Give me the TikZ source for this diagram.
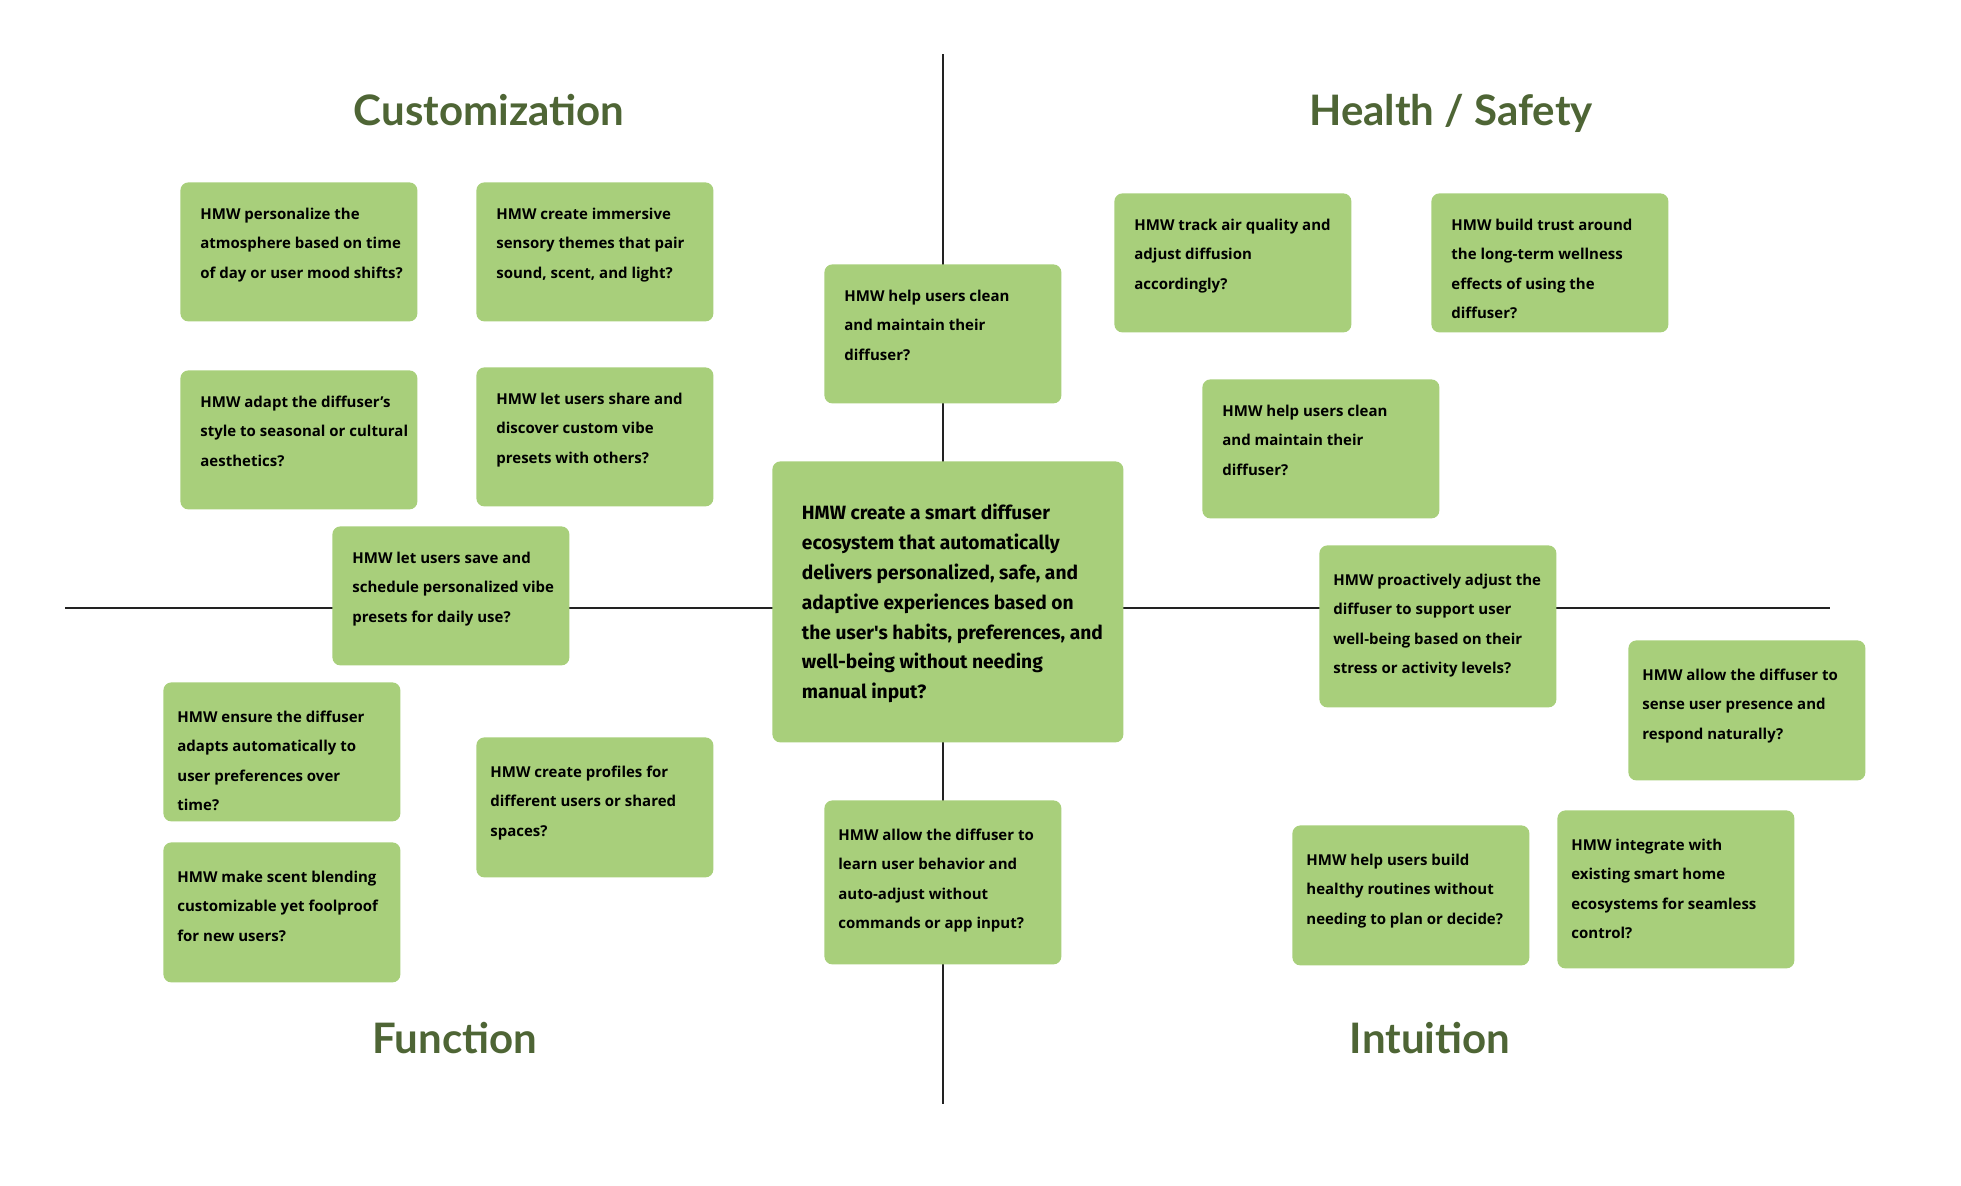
\documentclass[tikz,border=0pt]{standalone}
\usepackage{fontspec}
\newfontfamily\boxfont{Open Sans}
\newfontfamily\midfont{Fira Sans}
\newfontfamily\titlefont{Lato}
\definecolor{boxgreen}{HTML}{A8CF7B}
\definecolor{titlegreen}{HTML}{4E6535}
\definecolor{axisgray}{HTML}{222222}
\tikzset{
  hmwbox/.style={fill=boxgreen, draw=none, rounded corners=4pt, inner sep=0pt, anchor=north west},
  quadtitle/.style={text=titlegreen, font=\titlefont\bfseries\fontsize{21pt}{24pt}\selectfont, anchor=base, inner sep=0pt},
  axisline/.style={draw=axisgray, line width=0.65pt}
}
% #1 name, #2 x, #3 y, #4 w, #5 h, #6 left inset, #7 first baseline, #8 text  (all in px)
\newcommand{\hmw}[8]{%
  \node[hmwbox] (#1) at (#2,#3)
   {\parbox[c][\dimexpr#5pt/2\relax][t]{\dimexpr#4pt/2\relax}{\boxfont\bfseries\fontsize{7.5pt}{14.75pt}\selectfont\raggedright\leftskip=\dimexpr#6pt/2\relax\rule{0pt}{\dimexpr#7pt/2\relax}#8}};}
\begin{document}
\begin{tikzpicture}[x=0.5pt,y=-0.5pt]
\useasboundingbox (0,0) rectangle (1961,1185);
% axes
\coordinate (vtop) at (943,54);
\coordinate (vbot) at (943,1104);
\coordinate (hleft) at (65,608);
\coordinate (hright) at (1830,608);
\draw[axisline] (vtop) -- (vbot);
\draw[axisline] (hleft) -- (hright);
% titles
\node[quadtitle] (tcust) at (489,125) {Customization};
\node[quadtitle] (thealth) at (1451,125) {Health / Safety};
\node[quadtitle] (tfunc) at (455,1053) {Function};
\node[quadtitle] (tintu) at (1430,1053) {Intuition};
% customization
\hmw{c1}{180}{182}{237}{139}{20}{37}{HMW personalize the\\atmosphere based on time\\of day or user mood shifts?}
\hmw{c2}{476}{182}{237}{139}{20}{37}{HMW create immersive\\sensory themes that pair\\sound, scent, and light?}
\hmw{c3}{180}{370}{237}{139}{20}{37}{HMW adapt the diffuser’s\\style to seasonal or cultural\\aesthetics?}
\hmw{c4}{476}{367}{237}{139}{20}{37}{HMW let users share and\\discover custom vibe\\presets with others?}
\hmw{c5}{332}{526}{237}{139}{20}{37}{HMW let users save and\\schedule personalized vibe\\presets for daily use?}
% middle column
\hmw{m1}{824}{264}{237}{139}{20}{37}{HMW help users clean\\and maintain their\\diffuser?}
\hmw{m2}{824}{800}{237}{164}{14}{40}{HMW allow the diffuser to\\learn user behavior and\\auto-adjust without\\commands or app input?}
% center
\node[hmwbox] (core) at (772,461)
  {\parbox[c][140.5pt][t]{175.5pt}{\midfont\bfseries\fontsize{9.6pt}{14.95pt}\selectfont\raggedright\leftskip=14.75pt\rule{0pt}{29pt}HMW create a smart diffuser\\ecosystem that automatically\\delivers personalized, safe, and\\adaptive experiences based on\\the user\textquotesingle s habits, preferences, and\\well-being without needing\\manual input?}};
% health / safety
\hmw{h1}{1114}{193}{237}{139}{20}{37}{HMW track air quality and\\adjust diffusion\\accordingly?}
\hmw{h2}{1431}{193}{237}{139}{20}{37}{HMW build trust around\\the long-term wellness\\effects of using the\\diffuser?}
\hmw{h3}{1202}{379}{237}{139}{20}{37}{HMW help users clean\\and maintain their\\diffuser?}
\hmw{h4}{1319}{545}{237}{162}{14}{40}{HMW proactively adjust the\\diffuser to support user\\well-being based on their\\stress or activity levels?}
% intuition
\hmw{i1}{1628}{640}{237}{140}{14}{40}{HMW allow the diffuser to\\sense user presence and\\respond naturally?}
\hmw{i2}{1292}{825}{237}{140}{14}{40}{HMW help users build\\healthy routines without\\needing to plan or decide?}
\hmw{i3}{1557}{810}{237}{158}{14}{40}{HMW integrate with\\existing smart home\\ecosystems for seamless\\control?}
% function
\hmw{f1}{163}{682}{237}{139}{14}{40}{HMW ensure the diffuser\\adapts automatically to\\user preferences over\\time?}
\hmw{f2}{163}{842}{237}{140}{14}{40}{HMW make scent blending\\customizable yet foolproof\\for new users?}
\hmw{f3}{476}{737}{237}{140}{14}{40}{HMW create profiles for\\different users or shared\\spaces?}
\end{tikzpicture}
\end{document}
